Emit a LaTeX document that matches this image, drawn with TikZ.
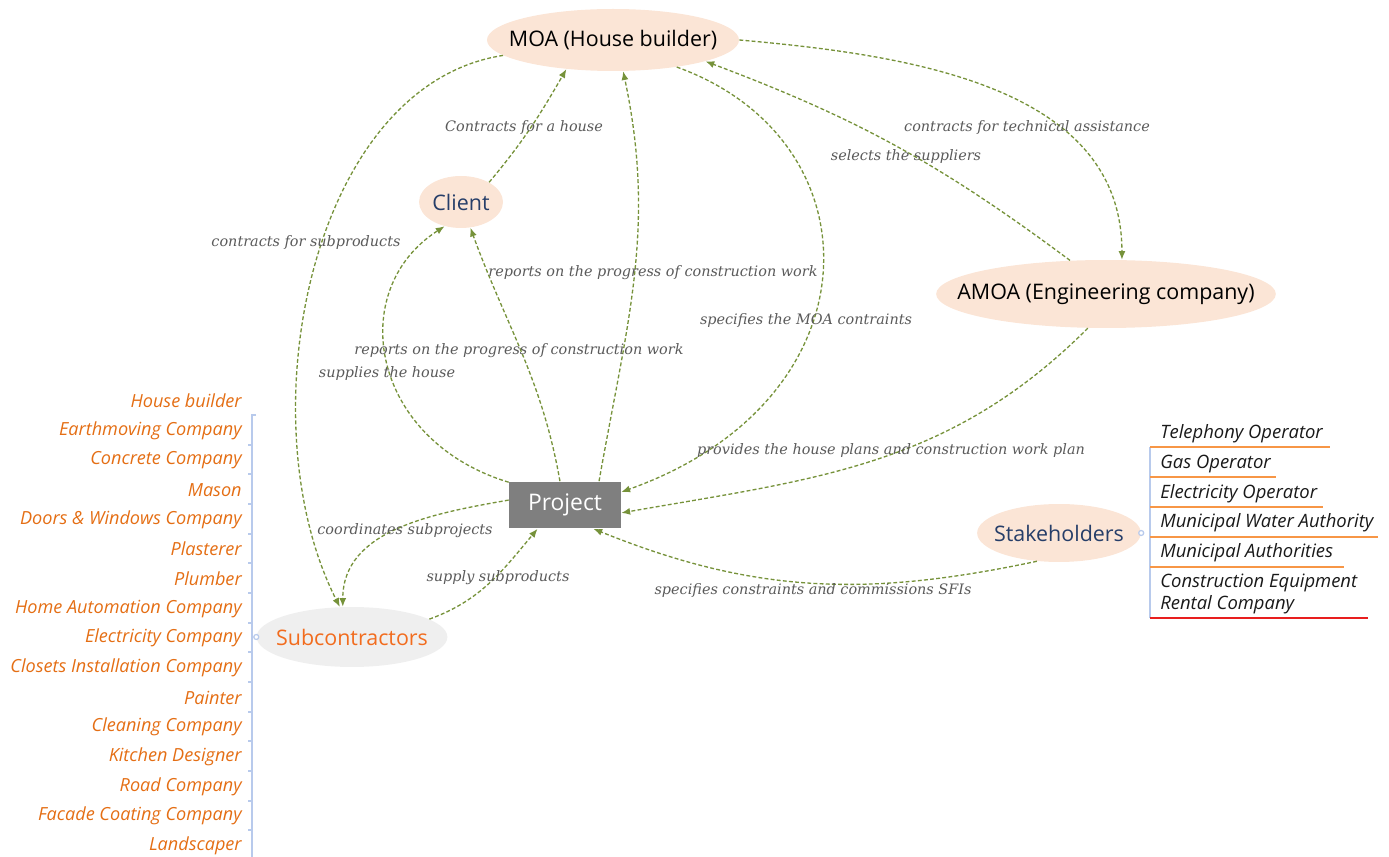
\documentclass[tikz,border=0pt]{standalone}
\usepackage{fontspec}
\setmainfont{Open Sans}
\newfontfamily\flowfont{DejaVu Serif}
\usetikzlibrary{shapes.geometric,arrows.meta}

\definecolor{flowgreen}{RGB}{118,146,58}
\definecolor{peach}{RGB}{251,229,214}
\definecolor{subgray}{RGB}{239,239,239}
\definecolor{projgray}{RGB}{127,127,127}
\definecolor{labelgray}{RGB}{90,90,90}
\definecolor{navy}{RGB}{38,62,105}
\definecolor{suborange}{RGB}{242,108,30}
\definecolor{listorange}{RGB}{228,110,20}
\definecolor{treeblue}{RGB}{184,202,236}
\definecolor{lineorange}{RGB}{247,150,70}
\definecolor{linered}{RGB}{232,30,30}

\tikzset{
  actor/.style={ellipse, fill=peach, inner ysep=0pt, font=\fontsize{12.2}{14}\selectfont},
  projbox/.style={rectangle, fill=projgray, text=white, inner sep=0pt,
    minimum width=2.24cm, minimum height=0.94cm, font=\fontsize{13}{15}\selectfont},
  flow/.style={draw=flowgreen, line width=0.75pt, dash pattern=on 2.2pt off 1.3pt,
    -{Latex[length=5pt,width=4pt]}},
  flowlabel/.style={text=labelgray, inner sep=0pt, font=\flowfont\itshape\fontsize{8.2}{10}\selectfont},
  subitem/.style={anchor=east, text=listorange, inner sep=0pt, font=\itshape\fontsize{10.3}{12}\selectfont},
  stakeitem/.style={anchor=west, align=left, text=black!90, inner sep=0pt, font=\itshape\fontsize{10.5}{13}\selectfont},
  treeline/.style={draw=treeblue, line width=0.7pt},
  branch/.style={draw=lineorange, line width=0.9pt},
}
\newcommand{\treetick}[1]{\draw[treeline] (248,#1) -- (252,#1);}

\begin{document}
\begin{tikzpicture}[x=0.02cm, y=-0.02cm]
\useasboundingbox (0,0) rectangle (1389,857);

% actors
\node[actor, inner xsep=-0.3cm, minimum height=1.24cm] (moa) at (613,40) {MOA (House builder)};
\node[actor, text=navy, inner xsep=0pt, minimum width=1.68cm, minimum height=1.04cm] (client) at (461,202) {Client};
\node[actor, inner xsep=-0.57cm, minimum height=1.36cm] (amoa) at (1106,294) {AMOA (Engineering company)};
\node[projbox] (project) at (565,505) {Project};
\node[actor, text=navy, inner xsep=-0.14cm, minimum height=1.16cm] (stake) at (1059,533) {Stakeholders};
\node[actor, fill=subgray, text=suborange, inner xsep=-0.17cm, minimum height=1.2cm] (sub) at (352,637) {Subcontractors};

% flows around MOA
\draw[flow] (client.35) to[out=50,in=240] (moa.212);
\draw[flow] (project.35) to[out=80,in=-78] (moa.288);
\draw[flow] (moa.337) .. controls (880,140) and (880,400) .. (project.13);
\draw[flow] (amoa.137) to[bend right=8] (moa.-13);
\draw[flow] (moa.east) to[out=-5,in=90] (amoa.65);
\draw[flow] (moa.188) .. controls (310,85) and (245,420) .. (sub.112);

% flows around project
\draw[flow] (project.158) .. controls (370,440) and (345,290) .. (client.236);
\draw[flow] (project.102) to[out=100,in=-70] (client.290);
\draw[flow] (amoa.242) to[out=225,in=10] (project.-8);
\draw[flow] (project.175) to[out=190,in=90] (sub.107);
\draw[flow] (sub.13) to[out=20,in=230] (project.221);
\draw[flow] (stake.232) to[out=192,in=-22] (project.320);

% flow labels
\node[flowlabel] (lhouse) at (524,128) {Contracts for a house};
\node[flowlabel] (ltech) at (1027,128) {contracts for technical assistance};
\node[flowlabel] (lselect) at (906,157) {selects the suppliers};
\node[flowlabel] (lsubprod) at (306,243) {contracts for subproducts};
\node[flowlabel] (lreportmoa) at (653,273) {reports on the progress of construction work};
\node[flowlabel] (lspecmoa) at (806,321) {specifies the MOA contraints};
\node[flowlabel] (lreportcl) at (519,351) {reports on the progress of construction work};
\node[flowlabel] (lsupply) at (387,374) {supplies the house};
\node[flowlabel] (lplans) at (891,451) {provides the house plans and construction work plan};
\node[flowlabel] (lcoord) at (405,531) {coordinates subprojects};
\node[flowlabel] (lsupsub) at (498,578) {supply subproducts};
\node[flowlabel] (lsfi) at (813,591) {specifies constraints and commissions SFIs};

% subcontractors list
\draw[treeline] (256,415) -- (252,415) -- (252,857);
\treetick{445} \treetick{474} \treetick{504} \treetick{534} \treetick{563}
\treetick{593} \treetick{623} \treetick{652} \treetick{682} \treetick{712}
\treetick{741} \treetick{771} \treetick{801} \treetick{830}
\draw[treeline, fill=white] (sub.west) circle (2.5);
\node[subitem] (s1) at (242,401) {House builder};
\node[subitem] (s2) at (242,431) {Earthmoving Company};
\node[subitem] (s3) at (242,460) {Concrete Company};
\node[subitem] (s4) at (242,490) {Mason};
\node[subitem] (s5) at (242,520) {Doors \& Windows Company};
\node[subitem] (s6) at (242,549) {Plasterer};
\node[subitem] (s7) at (242,579) {Plumber};
\node[subitem] (s8) at (242,609) {Home Automation Company};
\node[subitem] (s9) at (242,638) {Electricity Company};
\node[subitem] (s10) at (242,668) {Closets Installation Company};
\node[subitem] (s11) at (242,698) {Painter};
\node[subitem] (s12) at (242,727) {Cleaning Company};
\node[subitem] (s13) at (242,757) {Kitchen Designer};
\node[subitem] (s14) at (242,787) {Road Company};
\node[subitem] (s15) at (242,816) {Facade Coating Company};
\node[subitem] (s16) at (242,846) {Landscaper};

% stakeholders list
\draw[treeline] (1150,447) -- (1150,618);
\draw[treeline, fill=white] (stake.east) circle (2.5);
\node[stakeitem] (k1) at (1160,434) {Telephony Operator};
\node[stakeitem] (k2) at (1160,464) {Gas Operator};
\node[stakeitem] (k3) at (1160,494) {Electricity Operator};
\node[stakeitem] (k4) at (1160,523) {Municipal Water Authority};
\node[stakeitem] (k5) at (1160,553) {Municipal Authorities};
\node[stakeitem] (k6) at (1160,594) {Construction Equipment\\Rental Company};
\draw[branch] (1150,447) -- (1330,447);
\draw[branch] (1150,477) -- (1276,477);
\draw[branch] (1150,507) -- (1323,507);
\draw[branch] (1150,537) -- (1378,537);
\draw[branch] (1150,567) -- (1344,567);
\draw[branch, draw=linered] (1150,618) -- (1368,618);
\end{tikzpicture}
\end{document}
